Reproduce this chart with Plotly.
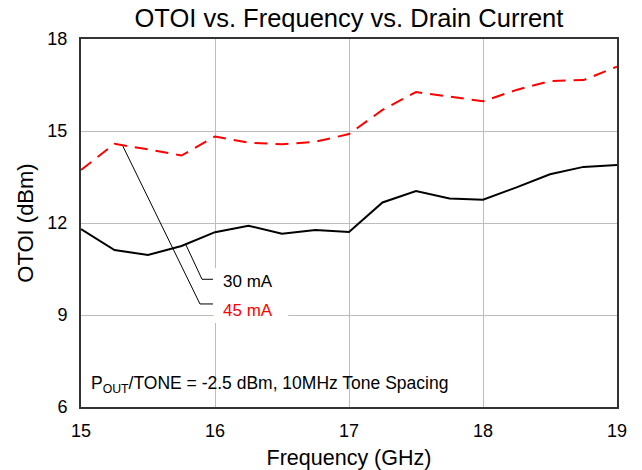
import plotly.graph_objects as go

freq_ghz = [15.0, 15.25, 15.5, 15.75, 16.0, 16.25, 16.5, 16.75, 17.0,
            17.25, 17.5, 17.75, 18.0, 18.25, 18.5, 18.75, 19.0]
otoi_30ma = [11.80, 11.12, 10.96, 11.25, 11.70, 11.91, 11.65, 11.77, 11.71,
             12.67, 13.04, 12.80, 12.76, 13.16, 13.59, 13.83, 13.89]
otoi_45ma = [13.73, 14.58, 14.40, 14.20, 14.82, 14.62, 14.57, 14.65, 14.90,
             15.69, 16.27, 16.12, 15.97, 16.34, 16.63, 16.66, 17.10]

x_ticks = [15, 16, 17, 18, 19]
y_ticks = [6, 9, 12, 15, 18]

# leader lines of the series labels (data coordinates)
leader_30 = [(15.784, 11.28), (15.903, 10.165), (15.985, 10.165)]
leader_45 = [(15.313, 14.50), (15.888, 9.36), (15.985, 9.36)]

FONT = "Liberation Sans, Arial, sans-serif"

fig = go.Figure()
fig.add_trace(go.Scatter(x=freq_ghz, y=otoi_30ma, mode="lines", name="30 mA",
                         line=dict(color="black", width=2)))
fig.add_trace(go.Scatter(x=freq_ghz, y=otoi_45ma, mode="lines", name="45 mA",
                         line=dict(color="#ff0000", width=2, dash="13px,8px")))


def path(pts):
    return "M " + " L ".join(f"{x},{y}" for x, y in pts)


shapes = [
    # white label box
    dict(type="rect", xref="x", yref="y", x0=15.99, x1=16.545, y0=8.74, y1=10.53,
         fillcolor="white", line=dict(width=0), layer="between"),
    # white band behind the note
    dict(type="rect", xref="paper", yref="y", x0=0, x1=1, y0=6.16, y1=7.14,
         fillcolor="white", line=dict(width=0), layer="between"),
    dict(type="path", xref="x", yref="y", path=path(leader_30),
         line=dict(color="black", width=1)),
    dict(type="path", xref="x", yref="y", path=path(leader_45),
         line=dict(color="black", width=1)),
]

annotations = [
    dict(x=16.045, y=10.08, xref="x", yref="y", text="30 mA", showarrow=False,
         xanchor="left", yanchor="middle", font=dict(family=FONT, size=17, color="black")),
    dict(x=16.045, y=9.16, xref="x", yref="y", text="45 mA", showarrow=False,
         xanchor="left", yanchor="middle", font=dict(family=FONT, size=17, color="#ff0000")),
    dict(x=15.06, y=6.75, xref="x", yref="y",
         text="P<sub>OUT</sub>/TONE = -2.5 dBm, 10MHz Tone Spacing", showarrow=False,
         xanchor="left", yanchor="middle", font=dict(family=FONT, size=17.5, color="black")),
]

# the page body adds an 8px offset, margins compensate for it
fig.update_layout(
    width=642, height=470,
    margin=dict(l=73, r=33, t=31, b=71),
    paper_bgcolor="white", plot_bgcolor="white",
    showlegend=False,
    font=dict(family=FONT, color="black"),
    title=dict(text="OTOI vs. Frequency vs. Drain Current", x=0.531, xanchor="center",
               xref="container", y=0.978, yanchor="middle", yref="container",
               font=dict(family=FONT, size=25.5, color="black")),
    shapes=shapes,
    annotations=annotations,
)
fig.update_xaxes(range=[15, 19], tickvals=x_ticks, ticktext=[str(v) for v in x_ticks],
                 showgrid=True, gridcolor="#bdbdbd", gridwidth=1,
                 showline=True, linecolor="#333333", linewidth=2, mirror=True,
                 ticks="", zeroline=False, ticklabelstandoff=6,
                 tickfont=dict(family=FONT, size=18),
                 title=dict(text="Frequency (GHz)", font=dict(family=FONT, size=21.5), standoff=10))
fig.update_yaxes(range=[6, 18], tickvals=y_ticks, ticktext=[str(v) for v in y_ticks],
                 showgrid=True, gridcolor="#bdbdbd", gridwidth=1,
                 showline=True, linecolor="#333333", linewidth=2, mirror=True,
                 ticks="", zeroline=False, ticklabelstandoff=8,
                 tickfont=dict(family=FONT, size=18),
                 title=dict(text="OTOI (dBm)", font=dict(family=FONT, size=22), standoff=8))

fig.write_html("out.html", config={"displayModeBar": False})
